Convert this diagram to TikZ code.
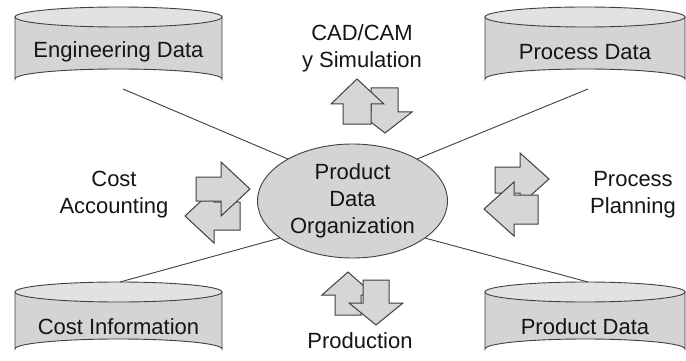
\documentclass[tikz,border=0pt]{standalone}
\usepackage{fontspec}
\setmainfont{Liberation Sans}
\usetikzlibrary{shapes.geometric}
\definecolor{linegray}{HTML}{404040}
\definecolor{bodygray}{HTML}{D4D4D4}
\definecolor{topgray}{HTML}{E2E2E2}
\definecolor{arrgray}{HTML}{D6D6D6}
\definecolor{txt}{HTML}{151515}
\tikzset{
  cyl/.style={draw=linegray, line width=0.9pt, fill=bodygray},
  cyltop/.style={draw=linegray, line width=0.9pt, fill=topgray},
  conn/.style={draw=linegray, line width=0.9pt},
  blockarr/.style={draw=linegray, line width=1pt, fill=arrgray, line join=miter},
  lbl/.style={font=\fontsize{22}{27}\selectfont, text=txt, align=center, inner sep=0pt},
}
\newcommand\drawcyl[5]{% left, right, top centre y, bottom centre y, ry
  \pgfmathsetmacro\cx{(#1+#2)/2}\pgfmathsetmacro\rx{(#2-#1)/2}
  \path[cyl] (#1,#3) -- (#1,#4) arc[start angle=180, end angle=360, x radius=\rx, y radius=#5] -- (#2,#3) -- cycle;
  \path[cyltop] (\cx,#3) ellipse [x radius=\rx, y radius=#5];
}
\begin{document}
\begin{tikzpicture}[x=1pt,y=-1pt]
\useasboundingbox (0,0) rectangle (686,361);
\fill[white] (0,0) rectangle (686,361);

% cylinders
\drawcyl{15}{222}{17}{79}{10}
\drawcyl{485}{685}{17}{79}{10}
\drawcyl{15}{222}{292}{349}{10}
\drawcyl{485}{685}{292}{349}{10}

\node[lbl] (eng) at (118.5,52) {Engineering Data};
\node[lbl] (proc) at (585,52) {Process Data};
\node[lbl] (costi) at (118.5,327) {Cost Information};
\node[lbl] (prod) at (585,327) {Product Data};

\coordinate (engb) at (123,89);
\coordinate (procb) at (588,89);
\coordinate (costt) at (120,282);
\coordinate (prodt) at (588,282);

% central ellipse
\node[ellipse, draw=linegray, line width=0.9pt, fill=bodygray, minimum width=190pt, minimum height=114pt, inner sep=0pt] (org) at (352.5,201) {};
\node[lbl] (orgtxt) at (org) {Product\\Data\\Organization};

% connectors
\draw[conn] (engb) -- (org.147);
\draw[conn] (procb) -- (org.33);
\draw[conn] (costt) -- (org.207);
\draw[conn] (prodt) -- (org.333);

% top arrows (down behind, up in front)
\draw[blockarr] (371,88) -- (398,88) -- (398,112) -- (412,112) -- (385,133) -- (358,112) -- (371,112) -- cycle;
\draw[blockarr] (343,124) -- (343,104) -- (331,104) -- (357,79) -- (384,104) -- (371,104) -- (371,124) -- cycle;

% bottom arrows (up behind, down in front)
\draw[blockarr] (335,315) -- (335,295) -- (322,295) -- (348,272) -- (374,295) -- (361,295) -- (361,315) -- cycle;
\draw[blockarr] (363,280) -- (389,280) -- (389,303) -- (403,303) -- (376,325) -- (349,303) -- (363,303) -- cycle;

% left arrows (left-pointing behind, right-pointing in front)
\draw[blockarr] (240,202) -- (240,230) -- (214,230) -- (214,243) -- (185,216) -- (214,189) -- (214,202) -- cycle;
\draw[blockarr] (196,177) -- (221,177) -- (221,162) -- (250,189) -- (221,216) -- (221,201) -- (196,201) -- cycle;

% right arrows (right-pointing behind, left-pointing in front)
\draw[blockarr] (495,167) -- (520,167) -- (520,153) -- (549,179) -- (520,205) -- (520,193) -- (495,193) -- cycle;
\draw[blockarr] (538,195) -- (538,224) -- (514,224) -- (514,236) -- (484,209) -- (514,182) -- (514,195) -- cycle;

% labels
\node[lbl] (cad) at (362,48) {CAD/CAM\\y Simulation};
\node[lbl] (costacc) at (114,195) {Cost\\Accounting};
\node[lbl] (procplan) at (633,195) {Process\\Planning};
\node[lbl] (production) at (360,341) {Production};
\end{tikzpicture}
\end{document}
